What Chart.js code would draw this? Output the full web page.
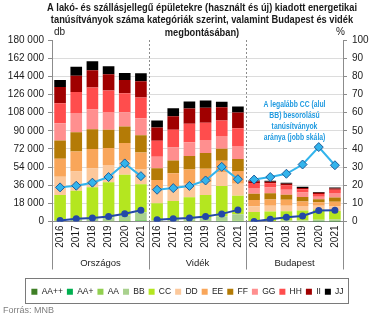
<!DOCTYPE html>
<html>
<head>
<meta charset="utf-8">
<script src="https://cdn.jsdelivr.net/npm/chart.js@4.4.1/dist/chart.umd.min.js"></script>
<style>
  html, body { margin: 0; padding: 0; background: #fff; }
</style>
</head>
<body>
<canvas id="chart" width="375" height="321"></canvas>
<script>
// Adatok (db), csoportonként 2016-2021: Országos, Vidék, Budapest
const years = ['2016', '2017', '2018', '2019', '2020', '2021'];
const groups = ['Országos', 'Vidék', 'Budapest'];
const labels = groups.flatMap(() => years);

const categories = ['AA++', 'AA+', 'AA', 'BB', 'CC', 'DD', 'EE', 'FF', 'GG', 'HH', 'II', 'JJ'];
const colors = ['#3f7f26', '#00b050', '#92d050', '#a9d18e', '#b4e620', '#fcc89b',
                '#f9a65a', '#b47b06', '#ff8f8f', '#ff4d4d', '#a00000', '#000000'];

const AApp = [0, 0, 0, 0, 300, 400,   0, 0, 0, 0, 200, 300,   0, 0, 0, 0, 100, 100];
const AAp  = [0, 0, 0, 0, 300, 300,   0, 0, 0, 0, 200, 200,   0, 0, 0, 0, 100, 100];
const AA   = [0, 0, 0, 300, 700, 900,   0, 0, 200, 400, 400, 600,   0, 0, 100, 100, 200, 300];
const BB   = [840, 2300, 3000, 4000, 5000, 7500,   900, 1700, 2100, 3000, 4200, 6200,   0, 500, 800, 900, 1300, 1600];
const CC   = [25500, 28200, 31000, 34700, 40000, 27900,   17300, 18700, 21700, 23000, 30200, 18200,   9400, 9400, 9200, 9800, 10300, 8300];
const DD   = [18000, 19000, 18500, 17000, 14000, 15000,   12500, 14000, 13500, 12500, 14000, 12000,   5800, 5800, 5600, 4500, 3600, 4600];
const EE   = [18000, 20000, 19500, 17000, 17500, 16500,   10500, 13500, 14000, 13500, 11000, 12500,   6100, 6100, 5900, 4500, 3400, 4600];
const FF   = [18000, 19000, 19500, 18000, 16500, 17000,   11500, 12500, 13500, 15500, 12000, 12000,   6100, 6100, 5000, 4500, 3000, 4300];
const GG   = [17000, 19000, 19500, 17500, 14000, 17000,   11500, 13000, 13500, 13000, 12500, 13000,   5800, 5700, 5000, 4500, 2600, 4300];
const HH   = [20000, 21000, 22000, 21500, 19000, 20500,   16000, 17500, 18500, 17000, 15500, 17500,   5100, 4400, 4400, 3300, 2600, 3200];
const II   = [16000, 16000, 17000, 16000, 13000, 16000,   13000, 13500, 15000, 15000, 13000, 15500,   1500, 1400, 1400, 1200, 1400, 1300];
const JJ   = [7000, 9000, 9000, 8000, 7000, 8000,   7000, 8000, 7000, 7000, 5500, 6000,   900, 1000, 1000, 1100, 700, 900];
const barValues = [AApp, AAp, AA, BB, CC, DD, EE, FF, GG, HH, II, JJ];

// Jobb skála (%)
const shareAtLeastCC = [18.8, 19.7, 21.4, 24.5, 32, 25,   17.5, 18.4, 19.6, 22.6, 30.1, 23.3,   23.1, 24.5, 26.3, 31.4, 41, 31];
const shareTopBB     = [0.6, 1.5, 1.9, 2.8, 4.3, 6.2,   0.9, 1.5, 1.9, 2.8, 4.2, 6.4,   0, 1.3, 2.3, 3, 6, 6.2];

const titleLines = [
  'A lakó- és szállásjellegű épületekre (használt és új) kiadott energetikai',
  'tanúsítványok száma kategóriák szerint, valamint Budapest és vidék',
  'megbontásában)'
];
const noteLines = ['A legalább CC (alul', 'BB) besorolású', 'tanúsítványok', 'aránya (jobb skála)'];

const FONT = "'Liberation Sans', Arial, sans-serif";
const AXIS_GREY = '#8c8c8c';

// A csoportok közötti szakadás a vonalakban
function groupBreak(color) {
  return ctx => (ctx.p0DataIndex % years.length === years.length - 1) ? 'rgba(0,0,0,0)' : color;
}

// Keskenyített szöveg (a Calibri helyett)
function narrowText(ctx, text, x, y, sx) {
  ctx.save();
  ctx.translate(x, y);
  ctx.scale(sx, 1);
  ctx.fillText(text, 0, 0);
  ctx.restore();
}

const datasets = categories.map((name, i) => ({
  type: 'bar',
  label: name,
  data: barValues[i],
  backgroundColor: colors[i],
  borderWidth: 0,
  stack: 'db',
  yAxisID: 'y',
  order: 2,
  categoryPercentage: 0.72,
  barPercentage: 1
}));

datasets.push({
  type: 'line',
  label: 'Legalább CC',
  data: shareAtLeastCC,
  yAxisID: 'y1',
  borderColor: '#33b4ec',
  borderWidth: 2,
  pointStyle: 'rectRot',
  pointRadius: 4.5,
  pointBackgroundColor: '#33b4ec',
  pointBorderColor: '#1d5d9b',
  pointBorderWidth: 1,
  segment: { borderColor: groupBreak('#33b4ec') },
  order: 1
});
datasets.push({
  type: 'line',
  label: 'Legalább BB',
  data: shareTopBB,
  yAxisID: 'y1',
  borderColor: '#2448a8',
  borderWidth: 2,
  pointStyle: 'circle',
  pointRadius: 2.5,
  pointBackgroundColor: '#2448a8',
  pointBorderColor: '#2448a8',
  segment: { borderColor: groupBreak('#2448a8') },
  order: 0
});

const decor = {
  id: 'decor',
  afterDraw(chart) {
    const { ctx, chartArea: ca, scales: { x } } = chart;
    ctx.save();

    // cím
    ctx.fillStyle = '#1a1a1a';
    ctx.font = 'bold 10.5px ' + FONT;
    ctx.textAlign = 'center';
    ctx.textBaseline = 'middle';
    const tsx = 310 / ctx.measureText(titleLines[0]).width;
    titleLines.forEach((t, i) => narrowText(ctx, t, 202, 8 + i * 12.5, tsx));

    ctx.font = '10px ' + FONT;
    ctx.textAlign = 'left';
    ctx.fillText('db', 54, 32);
    ctx.textAlign = 'right';
    ctx.fillText('%', 345, 32);

    // csoport-elválasztók és csoportnevek
    const n = years.length;
    const half = (x.getPixelForValue(1) - x.getPixelForValue(0)) / 2;
    const axisBottom = ca.bottom + 48;
    ctx.strokeStyle = AXIS_GREY;
    ctx.lineWidth = 1;
    for (let g = 0; g <= groups.length; g++) {
      let px;
      if (g === 0) px = ca.left;
      else if (g === groups.length) px = ca.right;
      else px = x.getPixelForValue(g * n) - half;
      px = Math.round(px) + 0.5;
      if (g > 0 && g < groups.length) {
        ctx.setLineDash([2, 2]);
        ctx.beginPath();
        ctx.moveTo(px, ca.top);
        ctx.lineTo(px, ca.bottom);
        ctx.stroke();
      }
      ctx.setLineDash([]);
      ctx.beginPath();
      ctx.moveTo(px, ca.bottom);
      ctx.lineTo(px, axisBottom);
      ctx.stroke();
    }
    ctx.fillStyle = '#1a1a1a';
    ctx.font = '9.5px ' + FONT;
    ctx.textAlign = 'center';
    groups.forEach((name, g) => {
      const cx = (x.getPixelForValue(g * n) + x.getPixelForValue(g * n + n - 1)) / 2;
      ctx.fillText(name, cx, ca.bottom + 42);
    });

    // megjegyzés a jobb skáláról
    const noteX = (x.getPixelForValue(2 * n) + x.getPixelForValue(3 * n - 1)) / 2;
    ctx.fillStyle = '#1f9ae0';
    ctx.font = 'bold 9.5px ' + FONT;
    const nsx = 62 / ctx.measureText(noteLines[0]).width;
    noteLines.forEach((t, i) => narrowText(ctx, t, noteX, 104 + i * 11.2, nsx));

    // jelmagyarázat keret
    const lg = chart.legend;
    if (lg && lg.legendHitBoxes && lg.legendHitBoxes.length) {
      const hb = lg.legendHitBoxes;
      const l = Math.min(...hb.map(b => b.left)) - 6;
      const r = Math.max(...hb.map(b => b.left + b.width)) + 5;
      ctx.strokeStyle = '#7a7a7a';
      ctx.strokeRect(Math.round(l) + 0.5, 278.5, Math.round(r - l), 25);
    }

    // forrás
    ctx.fillStyle = '#7f7f7f';
    ctx.font = '9px ' + FONT;
    ctx.textAlign = 'left';
    ctx.fillText('Forrás: MNB', 3, 311);

    ctx.restore();
  }
};

new Chart(document.getElementById('chart'), {
  data: { labels: labels, datasets: datasets },
  options: {
    responsive: false,
    animation: false,
    layout: { padding: { top: 40, left: 0, right: 0, bottom: 15 } },
    plugins: {
      title: { display: false },
      tooltip: { enabled: false },
      legend: {
        position: 'bottom',
        labels: {
          boxWidth: 6,
          boxHeight: 6,
          padding: 4,
          color: '#1a1a1a',
          font: { family: FONT, size: 8.5 },
          filter: item => categories.includes(item.text)
        }
      }
    },
    scales: {
      x: {
        stacked: true,
        grid: { display: false, drawTicks: false },
        border: { display: true, color: AXIS_GREY },
        ticks: {
          autoSkip: false,
          minRotation: 90,
          maxRotation: 90,
          padding: 4,
          color: '#1a1a1a',
          font: { family: FONT, size: 10 }
        },
        afterFit: s => { s.height = 62; }
      },
      y: {
        stacked: true,
        min: 0,
        max: 180000,
        position: 'left',
        ticks: {
          stepSize: 18000,
          padding: 4,
          color: '#1a1a1a',
          font: { family: FONT, size: 10 },
          callback: v => String(v).replace(/\B(?=(\d{3})+(?!\d))/g, ' ')
        },
        grid: {
          color: c => (c.tick && c.tick.value === 180000) ? 'rgba(0,0,0,0)' : '#dcdcdc',
          tickColor: AXIS_GREY,
          tickLength: 4
        },
        border: { display: true, color: AXIS_GREY },
        afterFit: s => { s.width = 52; }
      },
      y1: {
        min: 0,
        max: 100,
        position: 'right',
        ticks: {
          stepSize: 10,
          padding: 5,
          color: '#1a1a1a',
          font: { family: FONT, size: 10 }
        },
        grid: { drawOnChartArea: false, tickColor: AXIS_GREY, tickLength: 4 },
        border: { display: true, color: AXIS_GREY },
        afterFit: s => { s.width = 32; }
      }
    }
  },
  plugins: [decor]
});
</script>
</body>
</html>
